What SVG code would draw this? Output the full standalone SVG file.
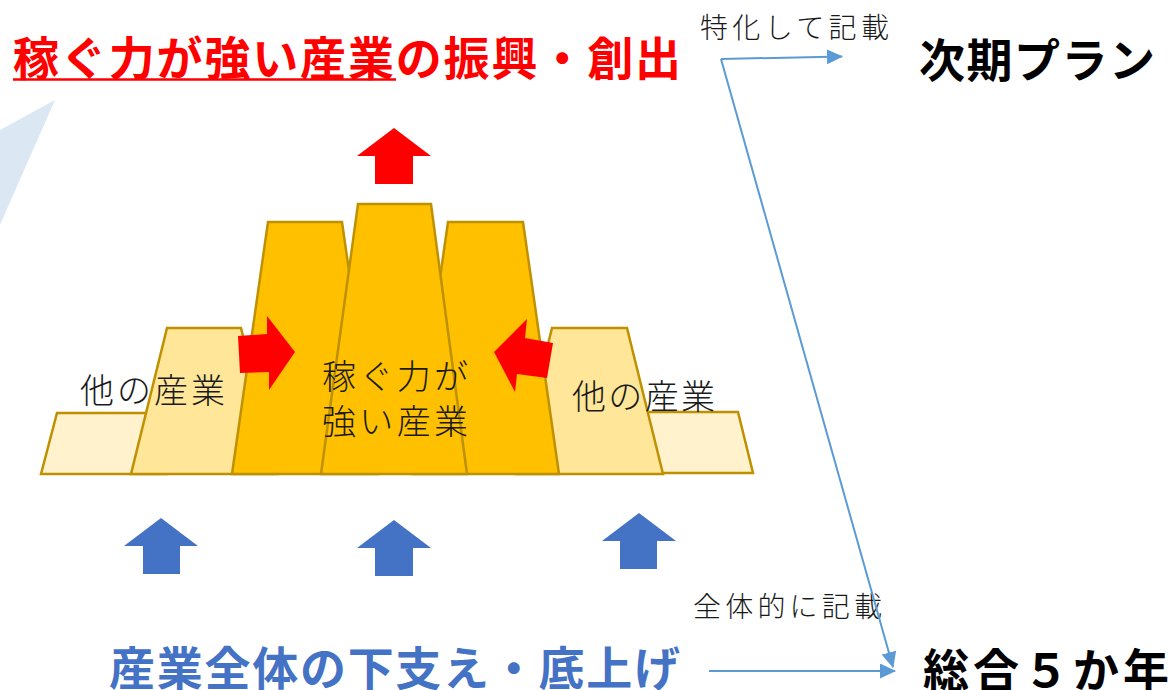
<svg xmlns="http://www.w3.org/2000/svg" width="1169" height="690" viewBox="0 0 1169 690">
  <style>
    .jp { font-family: "Noto Sans CJK JP", "Noto Sans", sans-serif; }
    .head { font-weight: 700; font-size: 46px; dominant-baseline: central; }
    .lbl { font-weight: 300; font-size: 34px; fill: #1a1a1a; dominant-baseline: central; }
    .note { font-weight: 300; font-size: 28px; fill: #1a1a1a; dominant-baseline: central; }
    .blk { stroke: #BF9000; stroke-width: 2.5; stroke-linejoin: miter; }
    .light { fill: #FFF2CC; }
    .mid { fill: #FFE699; }
    .gold { fill: #FFC000; }
    .conn { fill: none; stroke: #5B9BD5; stroke-width: 2; }
  </style>
  <defs>
    <marker id="ah" viewBox="0 0 16 15" refX="15" refY="7.5" markerWidth="16" markerHeight="15" markerUnits="userSpaceOnUse" orient="auto">
      <path d="M0,0 L16,7.5 L0,15 z" fill="#5B9BD5"/>
    </marker>
  </defs>
  <rect width="1169" height="690" fill="#FFFFFF"/>

  <!-- background light blue triangle -->
  <polygon points="-20,141 55,100 -20,270" fill="#DCE7F4"/>

  <!-- title -->
  <g id="title">
    <text class="jp head" x="13" y="55" fill="#FF0000" textLength="668" lengthAdjust="spacing">稼ぐ力が強い産業の振興・創出</text>
    <line x1="13" y1="79.5" x2="396" y2="79.5" stroke="#FF0000" stroke-width="2.5"/>
  </g>

  <!-- industry blocks -->
  <g id="block-light-left"><polygon class="blk light" points="57,413 150,413 166,474 41,474"/></g>
  <g id="block-light-right"><polygon class="blk light" points="640,412 738,412 753,473 624,473"/></g>
  <g id="block-mid-left"><polygon class="blk mid" points="167,328 241,328 277,474 131,474"/></g>
  <g id="block-mid-right"><polygon class="blk mid" points="552,328 627,328 663,474 516,474"/></g>
  <g id="block-tall-left"><polygon class="blk gold" points="268,222 342,222 378,474 232,474"/></g>
  <g id="block-tall-right"><polygon class="blk gold" points="448,222 523,222 559,474 412,474"/></g>
  <g id="block-center"><polygon class="blk gold" points="358,204 431,204 467,474 321,474"/></g>

  <!-- red arrows -->
  <g id="arrow-red-up"><polygon fill="#FF0000" points="394,128 431,156 413,156 413,184 375,184 375,156 357,156"/></g>
  <g id="arrow-red-right"><polygon fill="#FF0000" points="238,336 267,334 267,316 295,352 269,390 269,372 240,373"/></g>
  <g id="arrow-red-left"><polygon fill="#FF0000" points="494,352 527,319 525,338 553,343 547,378 517,374 515,392"/></g>

  <!-- blue arrows -->
  <g id="arrow-blue-1"><polygon fill="#4472C4" points="161,518 198,546 180,546 180,574 143,574 143,546 124,546"/></g>
  <g id="arrow-blue-2"><polygon fill="#4472C4" points="394,520 431,548 413,548 413,576 375,576 375,548 357,548"/></g>
  <g id="arrow-blue-3"><polygon fill="#4472C4" points="639,513 676,541 657,541 657,569 620,569 620,541 602,541"/></g>

  <!-- labels -->
  <g id="label-other-left"><text class="jp lbl" x="80" y="388" textLength="145" lengthAdjust="spacing">他の産業</text></g>
  <g id="label-other-right"><text class="jp lbl" x="572" y="394" textLength="143" lengthAdjust="spacing">他の産業</text></g>
  <g id="label-center">
    <text class="jp lbl" x="322" y="374" textLength="146" lengthAdjust="spacing">稼ぐ力が</text>
    <text class="jp lbl" x="322" y="419" textLength="146" lengthAdjust="spacing">強い産業</text>
  </g>

  <!-- bottom heading -->
  <g id="bottom-heading">
    <text class="jp head" x="109" y="665" fill="#4472C4" font-size="44" textLength="571" lengthAdjust="spacing">産業全体の下支え・底上げ</text>
  </g>

  <!-- right side -->
  <g id="next-plan"><text class="jp head" x="919" y="57" fill="#000000" font-size="44" textLength="236" lengthAdjust="spacing">次期プラン</text></g>
  <g id="five-year-plan"><text class="jp head" x="923" y="667" fill="#000000" font-size="45" letter-spacing="4">総合５か年計画</text></g>

  <g id="note-special"><text class="jp note" x="700" y="26" textLength="189" lengthAdjust="spacing">特化して記載</text></g>
  <g id="note-overall"><text class="jp note" x="693" y="605" textLength="189" lengthAdjust="spacing">全体的に記載</text></g>

  <!-- connectors -->
  <g id="connectors">
    <path class="conn" d="M721,59 L842,56.5" marker-end="url(#ah)"/>
    <path class="conn" d="M721,59 L893,667" marker-end="url(#ah)"/>
    <path class="conn" d="M709,671 L895,671" marker-end="url(#ah)"/>
  </g>
</svg>
